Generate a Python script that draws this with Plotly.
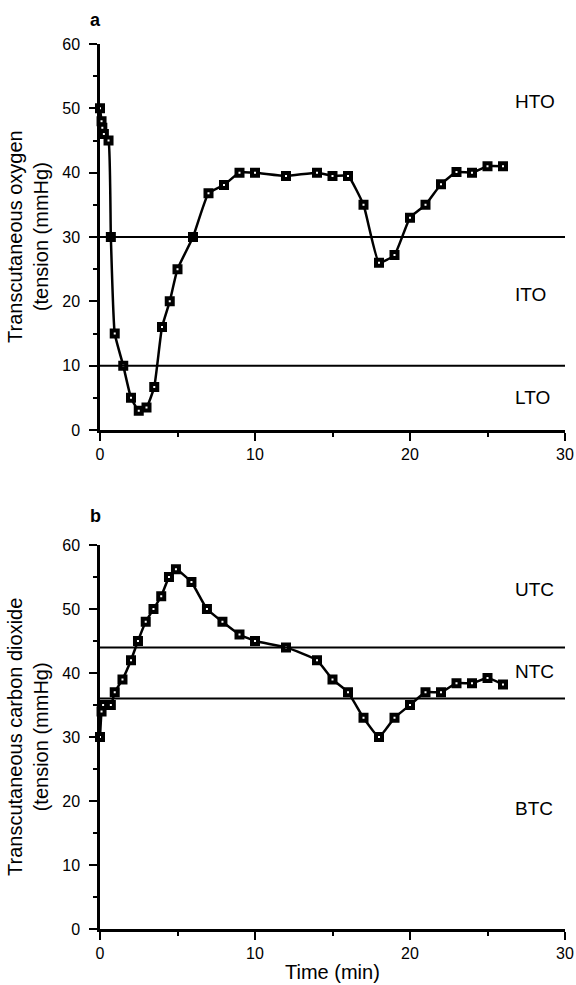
import plotly.graph_objects as go

# Panel a: transcutaneous oxygen tension
time_o2 = [0, 0.1, 0.15, 0.25, 0.55, 0.7, 0.95, 1.5, 2, 2.5, 3, 3.5, 4, 4.5, 5, 6, 7, 8, 9, 10,
           12, 14, 15, 16, 17, 18, 19, 20, 21, 22, 23, 24, 25, 26]
o2 = [50, 48, 47, 46, 45, 30, 15, 10, 5, 3, 3.5, 6.7, 16, 20, 25, 30, 36.8, 38.1, 40, 40,
      39.5, 40, 39.5, 39.5, 35, 26, 27.2, 33, 35, 38.2, 40.1, 40, 41, 41]
o2_thresholds = [30, 10]
o2_labels = ["HTO", "ITO", "LTO"]
o2_label_y = [51, 21, 5.1]

# Panel b: transcutaneous carbon dioxide tension
time_co2 = [0, 0.1, 0.2, 0.7, 0.95, 1.45, 2, 2.45, 2.95, 3.45, 3.95, 4.45, 4.9, 5.9, 6.9, 7.9, 9, 10,
            12, 14, 15, 16, 17, 18, 19, 20, 21, 22, 23, 24, 25, 26]
co2 = [30, 34, 35, 35, 37, 39, 42, 45, 48, 50, 52, 55, 56.2, 54.2, 50, 48, 46, 45,
       44, 42, 39, 37, 33, 30, 33, 35, 37, 37, 38.4, 38.4, 39.2, 38.2]
co2_thresholds = [44, 36]
co2_labels = ["UTC", "NTC", "BTC"]
co2_label_y = [53, 40.2, 18.9]

x_ticks = [0, 10, 20, 30]
y_ticks = [0, 10, 20, 30, 40, 50, 60]

W, H = 576, 985
FONT = "Liberation Sans, Arial, Helvetica, sans-serif"

fig = go.Figure()

line_style = dict(color="black", width=2.5, shape="spline", smoothing=0.4)
marker_style = dict(symbol="square", size=6, color="white", line=dict(color="black", width=4))

fig.add_trace(go.Scatter(x=time_o2, y=o2, mode="lines+markers", line=line_style,
                         marker=marker_style, cliponaxis=False, xaxis="x", yaxis="y",
                         showlegend=False))
fig.add_trace(go.Scatter(x=time_co2, y=co2, mode="lines+markers", line=line_style,
                         marker=marker_style, cliponaxis=False, xaxis="x2", yaxis="y2",
                         showlegend=False))

x_dom = [100 / W, 565 / W]
ya_dom = [1 - 430 / H, 1 - 44 / H]
yb_dom = [1 - 929 / H, 1 - 545 / H]

def xaxis(anchor):
    return dict(domain=x_dom, range=[0, 30], anchor=anchor, showline=True, linewidth=2.5,
                linecolor="black", ticks="outside", tickwidth=2, ticklen=8, tickcolor="black",
                tickvals=x_ticks, showgrid=False, zeroline=False, automargin=False,
                minor=dict(dtick=5, tick0=0, ticks="outside", ticklen=4, tickwidth=2,
                           tickcolor="black", showgrid=False),
                tickfont=dict(family=FONT, size=16, color="black"))

def yaxis(dom, anchor):
    return dict(domain=dom, range=[0, 60], anchor=anchor, showline=True, linewidth=2.5,
                linecolor="black", ticks="outside", tickwidth=2, ticklen=8, tickcolor="black",
                tickvals=y_ticks, showgrid=False, zeroline=False, ticklabelstandoff=6,
                automargin=False,
                minor=dict(dtick=5, tick0=0, ticks="outside", ticklen=4, tickwidth=2,
                           tickcolor="black", showgrid=False),
                tickfont=dict(family=FONT, size=16, color="black"))

shapes = []
for t in o2_thresholds:
    shapes.append(dict(type="line", xref="x", yref="y", x0=0, x1=30, y0=t, y1=t,
                       line=dict(color="black", width=2)))
for t in co2_thresholds:
    shapes.append(dict(type="line", xref="x2", yref="y2", x0=0, x1=30, y0=t, y1=t,
                       line=dict(color="black", width=2)))

annotations = []
for lab, yv in zip(o2_labels, o2_label_y):
    annotations.append(dict(text=lab, x=26.65, y=yv, xref="x", yref="y", xanchor="left",
                            yanchor="middle", showarrow=False,
                            font=dict(family=FONT, size=19, color="black")))
for lab, yv in zip(co2_labels, co2_label_y):
    annotations.append(dict(text=lab, x=26.65, y=yv, xref="x2", yref="y2", xanchor="left",
                            yanchor="middle", showarrow=False,
                            font=dict(family=FONT, size=19, color="black")))

# Panel letters
annotations.append(dict(text="<b>a</b>", x=95 / W, y=1 - 20 / H, xref="paper", yref="paper",
                        xanchor="center", yanchor="middle", showarrow=False,
                        font=dict(family=FONT, size=18, color="black")))
annotations.append(dict(text="<b>b</b>", x=95 / W, y=1 - 516 / H, xref="paper", yref="paper",
                        xanchor="center", yanchor="middle", showarrow=False,
                        font=dict(family=FONT, size=18, color="black")))

# Axis titles
annotations.append(dict(text="Transcutaneous oxygen<br>(tension (mmHg)", x=28 / W,
                        y=1 - 237 / H, xref="paper", yref="paper", xanchor="center",
                        yanchor="middle", textangle=-90, showarrow=False,
                        font=dict(family=FONT, size=20, color="black")))
annotations.append(dict(text="Transcutaneous carbon dioxide<br>(tension (mmHg)", x=28 / W,
                        y=1 - 737 / H, xref="paper", yref="paper", xanchor="center",
                        yanchor="middle", textangle=-90, showarrow=False,
                        font=dict(family=FONT, size=20, color="black")))
annotations.append(dict(text="Time (min)", x=332 / W, y=1 - 972 / H, xref="paper",
                        yref="paper", xanchor="center", yanchor="middle", showarrow=False,
                        font=dict(family=FONT, size=20, color="black")))

fig.update_layout(
    width=W, height=H, margin=dict(l=0, r=0, t=0, b=0, autoexpand=False),
    paper_bgcolor="white", plot_bgcolor="white",
    xaxis=xaxis("y"), yaxis=yaxis(ya_dom, "x"),
    xaxis2=xaxis("y2"), yaxis2=yaxis(yb_dom, "x2"),
    shapes=shapes, annotations=annotations,
    font=dict(family=FONT, color="black"),
)

fig.write_html("out.html", config={"displayModeBar": False},
               post_script="document.body.style.margin='0';")
